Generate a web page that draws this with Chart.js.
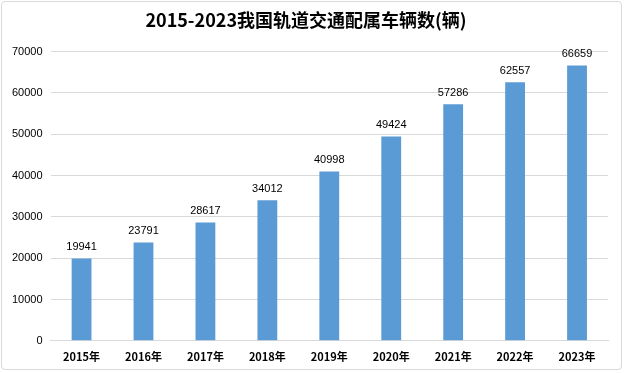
<!DOCTYPE html>
<html>
<head>
<meta charset="utf-8">
<script src="https://cdn.jsdelivr.net/npm/chart.js@4"></script>
<style>
  html, body { margin: 0; padding: 0; background: #fff; }
  #wrap { position: absolute; left: 1px; top: 1px; width: 621px; height: 369px;
          border: 1px solid #d9d9d9; border-radius: 4px; box-sizing: border-box; }
  #grafico { display: block; }
</style>
</head>
<body>
<div id="wrap"><canvas id="grafico" width="619" height="367"></canvas></div>
<script>
const anos = ["2015年", "2016年", "2017年", "2018年", "2019年", "2020年", "2021年", "2022年", "2023年"];
const veiculos = [19941, 23791, 28617, 34012, 40998, 49424, 57286, 62557, 66659];
const titulo = "2015-2023我国轨道交通配属车辆数(辆)";

// rótulos com o valor em cima de cada barra
const rotulos = {
  id: "rotulos",
  afterDatasetsDraw(chart) {
    const ctx = chart.ctx;
    ctx.save();
    ctx.font = "11px 'Liberation Sans', 'Noto Sans'";
    ctx.fillStyle = "#000";
    ctx.textAlign = "center";
    ctx.textBaseline = "bottom";
    chart.getDatasetMeta(0).data.forEach((bar, i) => {
      ctx.fillText(veiculos[i], bar.x, bar.y - 6);
    });
    ctx.restore();
  }
};

const ctx = document.getElementById("grafico");
new Chart(ctx, {
  type: "bar",
  data: {
    labels: anos,
    datasets: [{
      data: veiculos,
      backgroundColor: "#5B9BD5",
      barPercentage: 0.32,
      categoryPercentage: 1
    }]
  },
  options: {
    responsive: false,
    animation: false,
    layout: { padding: { left: 2, right: 13, top: 3, bottom: 5 } },
    plugins: {
      legend: { display: false },
      tooltip: { enabled: false },
      title: {
        display: true,
        text: titulo,
        color: "#000",
        font: { size: 18, weight: "bold", family: "'Noto Sans CJK SC', 'Liberation Sans'" },
        padding: { top: 4, bottom: 21 }
      }
    },
    scales: {
      x: {
        grid: { display: false },
        border: { color: "#d9d9d9" },
        ticks: { color: "#000", font: { size: 11, weight: "bold", family: "'Noto Sans CJK SC'" }, padding: 1 }
      },
      y: {
        min: 0,
        max: 70000,
        ticks: {
          stepSize: 10000,
          color: "#000",
          font: { size: 11, family: "'Liberation Sans'" },
          padding: 8,
          callback: (v) => String(v)
        },
        grid: { color: "#d9d9d9", drawTicks: false },
        border: { display: false }
      }
    }
  },
  plugins: [rotulos]
});
</script>
</body>
</html>
